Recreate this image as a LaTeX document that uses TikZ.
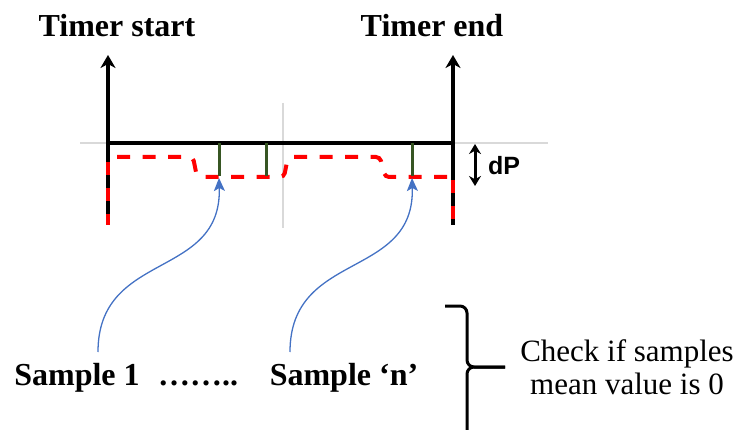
\documentclass[tikz,border=0pt]{standalone}
\usepackage{fontspec}
\setmainfont{Liberation Serif}
\newfontfamily\dpfont{Liberation Sans}
\usetikzlibrary{arrows.meta}
\definecolor{gridgray}{HTML}{D9D9D9}
\definecolor{sigred}{HTML}{FF0000}
\definecolor{smpgreen}{HTML}{375623}
\definecolor{linkblue}{HTML}{4472C4}
\tikzset{
    pulse/.style={draw=black,line width=3.4pt},
    axisline/.style={draw=gridgray,line width=1.8pt},
    ripple/.style={draw=sigred,line width=4pt,dash pattern=on 13pt off 12.5pt},
    edgeripple/.style={draw=sigred,line width=3.6pt,dash pattern=on 13pt off 13pt},
    smpline/.style={draw=smpgreen,line width=3pt},
    pointer/.style={draw=linkblue,line width=1.3pt,
      -{Stealth[length=13pt,width=11pt,inset=3pt]}},
    timerarrow/.style={draw=black,line width=3.2pt,-{Stealth[length=13pt,width=15pt,inset=4pt]}},
    bracepen/.style={draw=black,line width=3pt,rounded corners=7pt},
    biglabel/.style={font=\fontsize{32}{34}\selectfont\bfseries,inner sep=0pt,anchor=base},
    notelabel/.style={font=\fontsize{31}{33}\selectfont,inner sep=0pt,align=center}
}
\begin{document}
\begin{tikzpicture}[x=1pt,y=-1pt]
  \useasboundingbox (0,0) rectangle (744,430);
  % grid lines
  \draw[axisline] (80,143) -- (548,143);
  \draw[axisline] (283,103) -- (283,228);
  % timer window
  \coordinate (tsLow) at (108,225);
  \coordinate (tsTip) at (108,55);
  \coordinate (teLow) at (453,225);
  \coordinate (teTip) at (453,55);
  \node[biglabel] (tstart) at (117,37) {Timer start};
  \node[biglabel] (tend) at (432,37) {Timer end};
  \draw[timerarrow] (108,143) -- (tsTip);
  \draw[timerarrow] (453,143) -- (teTip);
  \draw[pulse] (tsLow) -- (108,143) -- (453,143) -- (teLow);
  \draw[edgeripple] (108,162) -- (tsLow);
  \draw[edgeripple] (453,180) -- (teLow);
  % measured signal
  \draw[ripple,rounded corners=4pt] (117,157) -- (193,157) -- (197,177)
    -- (284,177) -- (288,157) -- (380,157) -- (385,177) -- (450,177);
  % samples
  \foreach \sx/\nm in {219/s1,266/s2,412/sn}{
    \coordinate (\nm) at (\sx,178);
    \draw[smpline] (\sx,143) -- (\sx,176);
  }
  % dP
  \coordinate (dpTop) at (475,144);
  \coordinate (dpBot) at (475,186);
  \draw[line width=3pt,{Stealth[length=10pt,width=12pt]}-{Stealth[length=10pt,width=12pt]}]
    (dpTop) -- (dpBot);
  \node[font=\dpfont\fontsize{25}{27}\selectfont\bfseries,inner sep=0pt,anchor=base west]
    (dp) at (488,175) {dP};
  % labels
  \node[biglabel] (smpA) at (77,385) {Sample 1};
  \node[biglabel] (dots) at (198,385) {……..};
  \node[biglabel] (smpN) at (344,385) {Sample ‘n’};
  \coordinate (cA) at (98,352);
  \coordinate (cN) at (290,352);
  \draw[pointer] (cA) .. controls (98,250) and (222,280) .. (s1);
  \draw[pointer] (cN) .. controls (290,250) and (415,280) .. (sn);
  % brace and check
  \coordinate (brTop) at (445,306);
  \coordinate (brTip) at (505,367);
  \coordinate (brBot) at (467,432);
  \draw[bracepen] (brTop) -- (467,306) -- (467,367) -- (brTip);
  \draw[bracepen] (brTip) -- (467,367) -- (brBot);
  \node[notelabel] (check) at (627,367) {Check if samples\\mean value is 0};
\end{tikzpicture}
\end{document}
